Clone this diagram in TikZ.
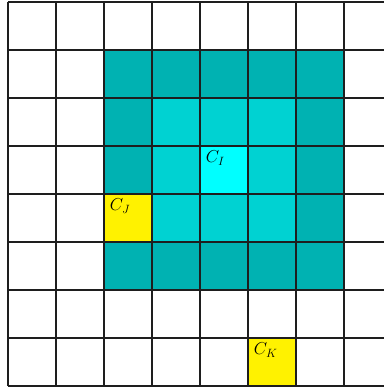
\documentclass[tikz,border=0pt]{standalone}
\definecolor{darkteal}{RGB}{0,178,178}
\definecolor{midteal}{RGB}{0,210,210}
\definecolor{centercyan}{RGB}{0,255,255}
\definecolor{gridline}{RGB}{30,30,30}
\begin{document}
\begin{tikzpicture}[x=48pt,y=-48pt,
  gridstyle/.style={draw=gridline,line width=1.2pt},
  lbl/.style={anchor=north west,inner sep=0pt,font=\fontsize{17}{20}\selectfont}]
\useasboundingbox (-8/48,-2/48) rectangle (375/48,386/48);
\fill[darkteal] (2,1) rectangle (7,6);
\fill[midteal] (3,2) rectangle (6,5);
\fill[centercyan] (4,3) rectangle (5,4);
\fill[yellow] (2,4) rectangle (3,5);
\fill[yellow] (5,7) rectangle (6,8);
\draw[gridstyle,step=48pt] (0,0) grid (8,8);
\node[lbl] (ci) at (4.12,3.10) {$C_I$};
\node[lbl] (cj) at (2.12,4.10) {$C_J$};
\node[lbl] (ck) at (5.12,7.10) {$C_K$};
\end{tikzpicture}
\end{document}
